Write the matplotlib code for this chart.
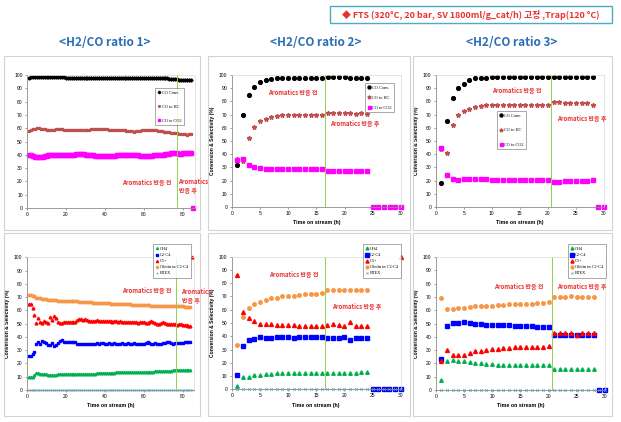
import matplotlib
matplotlib.use("Agg")
import matplotlib.pyplot as plt
from matplotlib.patches import Rectangle

W, H = 621, 422

# ---------------- data ----------------
# ratio 1 : hourly points, 1..85 h
hours_r1 = list(range(1, 86))

co_conv_r1 = [98.0, 98.2, 98.4, 98.5, 98.5, 98.6, 98.6, 98.5, 98.5, 98.4,
              98.4, 98.4, 98.3, 98.3, 98.3, 98.2, 98.2, 98.2, 98.2, 98.1,
              98.1, 98.1, 98.0, 98.0, 98.0, 98.0, 98.0, 97.9, 97.9, 97.9,
              97.9, 97.9, 97.8, 97.8, 97.8, 97.8, 97.8, 97.8, 97.8, 97.8,
              97.7, 97.7, 97.7, 97.7, 97.7, 97.7, 97.7, 97.7, 97.7, 97.7,
              97.7, 97.7, 97.6, 97.6, 97.6, 97.6, 97.6, 97.6, 97.6, 97.6,
              97.6, 97.5, 97.5, 97.5, 97.5, 97.5, 97.5, 97.5, 97.4, 97.4,
              97.4, 97.4, 97.3, 97.3, 97.3, 97.2, 97.2, 96.1, 96.0, 96.0,
              96.0, 95.9, 96.0, 96.0]
co_hc_r1 = [57.8, 58.5, 59.2, 59.6, 59.8, 59.8, 59.7, 59.5, 59.2, 58.9,
            58.8, 58.8, 58.9, 59.0, 59.1, 59.2, 59.3, 59.2, 59.0, 58.8,
            58.7, 58.6, 58.5, 58.4, 58.3, 58.3, 58.3, 58.3, 58.4, 58.5,
            58.7, 58.9, 59.1, 59.2, 59.3, 59.3, 59.3, 59.3, 59.3, 59.2,
            59.1, 59.0, 58.9, 58.8, 58.8, 58.7, 58.6, 58.5, 58.4, 58.3,
            58.1, 57.9, 57.7, 57.6, 57.5, 57.6, 57.8, 58.1, 58.4, 58.8,
            59.0, 59.0, 58.9, 58.7, 58.5, 58.3, 58.1, 57.9, 57.6, 57.3,
            57.1, 56.9, 56.8, 56.6, 56.5, 56.3, 56.1, 56.0, 55.7, 55.5,
            55.3, 55.2, 55.3, 55.3]
co_co2_r1 = [40.2, 39.7, 39.2, 38.6, 38.2, 38.3, 38.5, 38.7, 39.0, 39.3,
             39.6, 39.7, 39.7, 39.6, 39.5, 39.6, 39.7, 39.7, 39.8, 39.9,
             40.0, 40.0, 40.1, 40.2, 40.3, 40.4, 40.5, 40.5, 40.4, 40.2,
             40.0, 39.8, 39.7, 39.5, 39.4, 39.3, 39.2, 39.2, 39.2, 39.2,
             39.2, 39.2, 39.2, 39.3, 39.4, 39.5, 39.6, 39.7, 39.8, 39.9,
             40.0, 40.1, 40.2, 40.1, 40.0, 39.8, 39.6, 39.3, 39.2, 39.1,
             39.0, 39.0, 39.1, 39.3, 39.5, 39.7, 39.8, 39.9, 40.0, 40.2,
             40.4, 40.6, 40.9, 41.2, 41.5, 41.7, 41.4, 40.7, 40.9, 41.2,
             41.2, 41.2, 41.2, 41.2, 0.0]

ch4_r1 = [9.5, 9.6, 10.0, 11.3, 13.0, 12.5, 12.2, 12.4, 12.2, 11.9,
          11.6, 11.3, 11.0, 11.4, 11.6, 11.9, 12.0, 11.9, 11.9, 12.0,
          11.9, 12.0, 11.9, 12.0, 12.0, 12.2, 12.1, 12.2, 12.2, 12.2,
          12.3, 12.2, 12.3, 12.3, 12.4, 12.6, 12.7, 12.7, 12.7, 12.7,
          12.8, 12.8, 12.9, 12.9, 13.0, 13.2, 13.3, 13.3, 13.3, 13.3,
          13.3, 13.4, 13.4, 13.5, 13.5, 13.6, 13.6, 13.6, 13.6, 13.6,
          13.7, 13.7, 13.8, 13.9, 13.9, 14.0, 14.1, 14.1, 14.1, 14.1,
          14.2, 14.2, 14.3, 14.4, 14.8, 14.8, 14.9, 15.2, 15.3, 15.3,
          15.3, 15.2, 15.4, 15.3]
c2c4_r1 = [25.6, 25.6, 27.0, 29.0, 34.4, 36.4, 35.0, 36.9, 36.4, 35.7,
           33.9, 33.9, 35.7, 32.9, 33.9, 35.7, 36.9, 37.4, 36.2, 36.4,
           36.2, 36.2, 36.0, 36.2, 36.0, 34.4, 34.4, 34.7, 34.4, 34.6,
           34.7, 34.9, 34.7, 35.0, 34.8, 35.2, 35.0, 35.2, 35.1, 35.0,
           35.0, 35.2, 34.9, 35.0, 35.1, 35.0, 34.8, 35.0, 35.2, 35.0,
           35.0, 35.1, 34.9, 35.0, 35.2, 35.0, 34.8, 35.0, 34.9, 34.4,
           35.3, 35.9, 35.4, 35.0, 35.0, 35.2, 35.0, 34.8, 35.0, 35.2,
           35.6, 36.2, 35.8, 35.2, 35.0, 35.4, 35.6, 35.7, 35.7, 35.6,
           35.8, 35.9, 36.0, 36.2]
c5_r1 = [65.1, 64.8, 61.6, 56.5, 50.8, 54.0, 51.5, 50.3, 52.0, 51.5,
         50.8, 55.0, 53.0, 56.0, 54.0, 51.5, 50.8, 50.3, 51.3, 51.3,
         51.3, 51.0, 51.3, 51.5, 51.3, 53.0, 53.3, 53.3, 53.0, 53.3,
         52.5, 52.3, 52.3, 52.0, 52.3, 52.5, 52.3, 52.0, 52.3, 52.2,
         51.8, 52.0, 51.8, 51.5, 51.8, 52.0, 51.6, 51.8, 51.5, 51.6,
         51.3, 51.0, 51.3, 51.5, 51.0, 51.3, 50.8, 51.3, 51.5, 51.0,
         50.5, 50.3, 51.0, 52.0, 51.5, 50.8, 50.0, 49.7, 50.5, 51.3,
         50.3, 49.6, 49.5, 49.5, 49.6, 49.5, 49.3, 49.5, 49.4, 49.2,
         48.8, 48.7, 48.3, 47.9, 100.0]
olefin_r1 = [71.4, 71.4, 71.1, 70.5, 69.6, 69.3, 69.0, 68.6, 68.4, 68.2,
             68.0, 67.8, 67.7, 67.6, 67.5, 67.4, 67.3, 67.3, 67.2, 67.2,
             67.1, 67.1, 67.0, 66.9, 66.8, 66.7, 66.6, 66.5, 66.4, 66.3,
             66.2, 66.1, 66.0, 65.9, 65.8, 65.7, 65.6, 65.5, 65.4, 65.3,
             65.2, 65.2, 65.1, 65.0, 64.9, 64.9, 64.8, 64.8, 64.7, 64.6,
             64.6, 64.5, 64.5, 64.4, 64.3, 64.3, 64.2, 64.1, 64.0, 64.0,
             63.9, 63.8, 63.7, 63.6, 63.5, 63.5, 63.4, 63.3, 63.3, 63.2,
             63.2, 63.2, 63.1, 63.1, 63.1, 63.0, 63.0, 63.0, 63.0, 63.0,
             62.9, 62.8, 62.7, 62.6]
btex_r1 = [0.0] * 85

# ratio 2 : 1..30 h
hours_r2 = list(range(1, 31))
co_conv_r2 = [32, 70, 84.5, 91, 94.5, 96, 97, 97.5, 97.5, 98, 98, 98, 98, 98, 98, 98,
              98.5, 98.5, 98.5, 98.5, 98, 97.5, 98, 98]
co_hc_r2 = [36, 35, 52.5, 60.5, 65, 67, 68.5, 69, 69.5, 69.5, 69.5, 69.5, 69.5, 69.5, 69.5, 69.5,
            71.5, 71.5, 71.5, 71, 71, 70.5, 71, 70.5]
co_co2_r2 = [35.5, 36, 32, 30.5, 29.5, 29, 28.5, 28.5, 28.5, 28.5, 28.5, 28.5, 28.5, 28.5, 28.5, 28.5,
             27, 27, 27, 27.5, 27.5, 27.5, 27.5, 27.5, 0, 0, 0, 0, 0, 0]
ch4_r2 = [2.5, 9, 9.5, 10.5, 11, 11.5, 11.5, 12, 12, 12, 12, 12.5, 12.5, 12.5, 12.5, 12.5,
          12.5, 12.5, 12.5, 12.5, 12, 12.5, 13, 13]
c2c4_r2 = [11, 33, 37, 38, 39.5, 39, 38.5, 39.5, 39.5, 39.5, 39, 39.5, 39.5, 39.5, 39.5, 39.5,
           39, 38.5, 38.5, 39.5, 37, 39, 39, 39, 0, 0, 0, 0, 0, 0]
c5_r2 = [86.5, 58, 53.5, 51.5, 49.5, 49.5, 49.5, 48.5, 48.5, 48.5, 48.5, 48, 48, 48, 47.5, 48,
         48.5, 49, 48.5, 48, 51, 48, 48, 48]
c5_end_r2 = 100
olefin_r2 = [33.5, 54.5, 61, 64, 66, 67, 68.5, 69, 70, 70.5, 70.5, 71, 71.5, 72, 72, 72.5,
             75, 75, 75, 75, 75, 75, 75, 75]
btex_r2 = [0] * 30

# ratio 3 : 1..30 h
hours_r3 = list(range(1, 31))
co_conv_r3 = [18.5, 65, 82.5, 90, 93.5, 96, 97.5, 98, 98, 98.5, 98.5, 98.5, 98.5, 98.5,
              98.5, 98.5, 98.5, 98.5, 98.5, 98.5, 98.5, 98.5, 98.5, 98.5, 98.5, 98.5, 98.5, 98.5]
co_hc_r3 = [44, 41, 62, 69.5, 72.5, 74.5, 75.5, 76.5, 77, 77.5, 77.5, 77.5, 77.5, 77.5,
            77.5, 77.5, 77.5, 77.5, 77.5, 77.5, 79.5, 79.5, 79, 78.5, 78.5, 78.5, 78.5, 77.5]
co_co2_r3 = [44.5, 24, 21, 20.5, 21, 21.5, 21.5, 21, 21, 20.5, 20.5, 20.5, 20.5, 20.5, 20.5,
             20.5, 20.5, 20.5, 20.5, 20.5, 19, 19, 19.5, 20, 20, 20, 20, 20.5, 0, 0]
ch4_r3 = [7.5, 21.5, 22.5, 22, 22, 21, 20, 20, 19.5, 19.5, 19, 19, 19, 19, 19, 19, 19, 19, 19, 19,
          15.5, 15.5, 15.5, 15.5, 16, 16, 15.5, 15.5]
c2c4_r3 = [23, 48, 50.5, 50.5, 51, 50.5, 49.5, 49.5, 49, 49, 48.5, 48.5, 48.5, 48, 48, 48, 48,
           47.5, 47.5, 47.5, 41, 41, 41, 41, 41.5, 41, 41, 41, 0, 0]
c5_r3 = [22, 30, 26, 26.5, 26, 28, 29.5, 29.5, 30, 30.5, 31, 31.5, 31.5, 32, 32, 32, 32.5, 32.5,
         32.5, 33, 42.5, 42.5, 42.5, 43, 41.5, 42.5, 42.5, 42.5]
olefin_r3 = [69.5, 61, 61, 61.5, 62, 62.5, 63, 63, 63.5, 63.5, 64, 64, 64.5, 64.5, 65, 65, 65,
             65.5, 65.5, 66, 70, 70, 70, 70.5, 70, 70, 70, 70]
btex_r3 = [0] * 30

switch_time = [76.7, 16.5, 20.6]   # time the aromatics reaction starts

titles = ["<H2/CO ratio 1>", "<H2/CO ratio 2>", "<H2/CO ratio 3>"]
header = "◆ FTS (320°C, 20 bar, SV 1800ml/g_cat/h) 고정 ,Trap(120 °C)"
before_txt = "Aromatics 반응 전"
after_txt = "Aromatics 반응 후"
ylab = "Conversion & Selectivity (%)"
xlab = "Time on stream (h)"

# ---------------- styles ----------------
KR = ["Noto Sans CJK KR", "DejaVu Sans"]
RED = "#E8312F"
BLUE_T = "#2A6EB5"
plt.rcParams["font.family"] = ["Liberation Sans", "DejaVu Sans"]

fig = plt.figure(figsize=(W / 100, H / 100), dpi=100)


def px_ax(x0, x1, y0, y1):
    return fig.add_axes([x0 / W, 1 - y1 / H, (x1 - x0) / W, (y1 - y0) / H])


def ftxt(x, y, s, **kw):
    fig.text(x / W, 1 - y / H, s, **kw)


def frame(x0, y0, x1, y1, color="#D3D3D3", lw=0.8):
    fig.add_artist(Rectangle((x0 / W, 1 - y1 / H), (x1 - x0) / W, (y1 - y0) / H,
                             transform=fig.transFigure, fill=False, ec=color, lw=lw))


def style(ax, xmax, xstep, xl=True, yl=True):
    ax.set_xlim(0, xmax)
    ax.set_ylim(0, 100)
    ax.set_xticks(range(0, int(xmax) + 1 if xmax % xstep == 0 else int(xmax), xstep))
    ax.set_yticks(range(0, 101, 10))
    ax.tick_params(labelsize=3.6, length=1.5, width=0.4, pad=1.5, colors="#555555",
                   labelcolor="black")
    for s in ["left", "bottom"]:
        ax.spines[s].set_color("#8C8C8C")
        ax.spines[s].set_linewidth(0.6)
    for s in ["top", "right"]:
        ax.spines[s].set_color("#D9D9D9")
        ax.spines[s].set_linewidth(0.5)
    if yl:
        ax.set_ylabel(ylab, fontsize=3.6, labelpad=3, fontweight="bold")
    if xl:
        ax.set_xlabel(xlab, fontsize=3.8, labelpad=3, fontweight="bold")


def legend(ax, x0, y0, spacing):
    lg = ax.legend(loc="upper left", bbox_to_anchor=(x0 / W, 1 - y0 / H),
                   bbox_transform=fig.transFigure, prop={"family": "Liberation Serif", "size": 3.2},
                   frameon=True, fancybox=False, edgecolor="#444444", borderpad=0.6,
                   handlelength=0.6, handletextpad=0.3, labelspacing=spacing, markerscale=0.8)
    lg.get_frame().set_linewidth(0.4)


# panel frames
for (a, b) in [(4, 200), (208, 410), (413, 612)]:
    frame(a, 56, b, 230)
    frame(a, 233, b, 416)

# header and titles
frame(330, 6, 612, 23, color="#4BACC6", lw=1.0)
ftxt(471, 15, header, ha="center", va="center", color=RED, fontsize=6.4,
     fontweight="bold", family=KR)
for cx, t in zip([105, 316, 512], titles):
    ftxt(cx, 42, t, ha="center", va="center", color=BLUE_T, fontsize=8.5,
         fontweight="bold", family=KR)

GREEN_LINE = "#92D050"

# ---------------- top row ----------------
top_axes = [px_ax(27, 194.7, 75, 208), px_ax(231.7, 401, 75, 207), px_ax(435.7, 604, 75, 207)]
top_data = [
    (hours_r1, co_conv_r1, co_hc_r1, co_co2_r1),
    (hours_r2, co_conv_r2, co_hc_r2, co_co2_r2),
    (hours_r3, co_conv_r3, co_hc_r3, co_co2_r3),
]
for i, (ax, (t, cv, hc, co2)) in enumerate(zip(top_axes, top_data)):
    dense = i == 0
    ms = 2.0 if dense else 3.0
    ax.plot(t[:len(cv)], cv, ls="none", marker="D" if dense else "o", ms=ms * 0.8 if dense else ms * 0.9,
            color="black", label="CO Conv.", clip_on=False)
    ax.plot(t[:len(hc)], hc, ls="none", marker="*", ms=ms * 1.1, color="#C0504D",
            label="CO to HC", clip_on=False)
    ax.plot(t[:len(co2)], co2, ls="none", marker="s", ms=ms * (1.1 if dense else 0.9),
            color="#FF00FF", label="CO to CO2", clip_on=False)
    ax.axvline(switch_time[i], color=GREEN_LINE, lw=0.7)
    if i == 0:
        style(ax, 86, 20, xl=False, yl=False)
    else:
        style(ax, 30, 5)

legend(top_axes[0], 153, 86, 2.2)
legend(top_axes[1], 363, 81, 1.3)
legend(top_axes[2], 495, 109, 2.3)

# ---------------- bottom row ----------------
bot_axes = [px_ax(26.7, 194.3, 257.3, 390), px_ax(231.7, 400.7, 256.7, 389.3), px_ax(435.7, 605, 257, 390)]
bot_data = [
    (hours_r1, ch4_r1, c2c4_r1, c5_r1, olefin_r1, btex_r1),
    (hours_r2, ch4_r2, c2c4_r2, c5_r2, olefin_r2, btex_r2),
    (hours_r3, ch4_r3, c2c4_r3, c5_r3, olefin_r3, btex_r3),
]
for i, (ax, (t, ch4, c24, c5, ole, btx)) in enumerate(zip(bot_axes, bot_data)):
    dense = i == 0
    ms = 2.0 if dense else 2.8
    ax.plot(t[:len(ch4)], ch4, ls="none", marker="^", ms=ms * 0.9, color="#00B050", label="CH4", clip_on=False)
    ax.plot(t[:len(c24)], c24, ls="none", marker="s", ms=ms, color="#0000FF", label="C2-C4", clip_on=False)
    ax.plot(t[:len(c5)], c5, ls="none", marker="^", ms=ms, color="#FF0000", label="C5+", clip_on=False)
    ax.plot(t[:len(ole)], ole, ls="none", marker="o", ms=ms * 0.9, color="#F79646",
            label="Olefin in C2-C4", clip_on=False)
    ax.plot(t[:len(btx)], btx, ls="none", marker="x", ms=ms * 0.7, mew=0.5, color="#4BACC6",
            label="BTEX", clip_on=False)
    if i == 1:
        ax.plot([hours_r2[-1]], [c5_end_r2], ls="none", marker="^", ms=ms, color="#FF0000", clip_on=False)
    ax.axvline(switch_time[i], color=GREEN_LINE, lw=0.7)
    if i == 0:
        style(ax, 86, 20)
    else:
        style(ax, 30, 5)

legend(bot_axes[0], 151, 242, 0.45)
legend(bot_axes[1], 361, 242, 0.45)
legend(bot_axes[2], 566, 242, 0.45)

# ---------------- annotations ----------------
akw = dict(color=RED, fontsize=4.3, fontweight="bold", family=KR, va="center")
ftxt(147, 182, before_txt, ha="center", **akw)
ftxt(178, 182, "Aromatics", ha="left", **akw)
ftxt(179, 191, "반응 후", ha="left", **akw)
ftxt(293, 93, before_txt, ha="center", **akw)
ftxt(355, 124, after_txt, ha="center", **akw)
ftxt(517, 91, before_txt, ha="center", **akw)
ftxt(582, 118, after_txt, ha="center", **akw)

ftxt(147, 291, before_txt, ha="center", **akw)
ftxt(181, 291, "Aromatics", ha="left", **akw)
ftxt(182, 301, "반응 후", ha="left", **akw)
ftxt(294, 275, before_txt, ha="center", **akw)
ftxt(357, 306, after_txt, ha="center", **akw)
ftxt(519, 287, before_txt, ha="center", **akw)
ftxt(582, 287, after_txt, ha="center", **akw)

fig.savefig("out.png", dpi=100)
